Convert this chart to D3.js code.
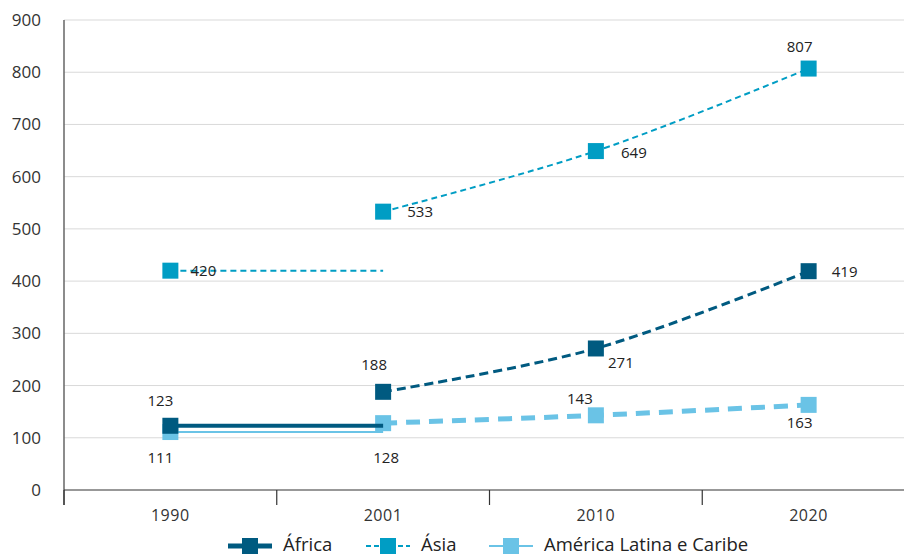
<!DOCTYPE html>
<html>
<head>
<meta charset="utf-8">
<script src="https://cdn.jsdelivr.net/npm/d3@7"></script>
<style>
  body { margin: 0; background: #fff; }
  svg { display: block; font-family: "Open Sans", "DejaVu Sans", sans-serif; }
</style>
</head>
<body>
<svg id="chart" width="904" height="557"></svg>
<script>
// Population by region (millions)
const years = ["1990", "2001", "2010", "2020"];
const africa = [123, 188, 271, 419];
const asia = [420, 533, 649, 807];
const latam = [111, 128, 143, 163];
const yTicks = [0, 100, 200, 300, 400, 500, 600, 700, 800, 900];
const seriesNames = ["África", "Ásia", "América Latina e Caribe"];

const svg = d3.select("#chart");
const x = d3.scaleBand().domain(years).range([64, 915]);
const y = d3.scaleLinear().domain([0, 900]).range([490, 20]);
const cx = d => x(d) + x.bandwidth() / 2;

// gridlines
svg.append("g").selectAll("line").data(yTicks.filter(t => t > 0)).join("line")
  .attr("x1", 64).attr("x2", 904)
  .attr("y1", d => y(d)).attr("y2", d => y(d))
  .attr("stroke", "#d9d9d9").attr("stroke-width", 1);

// y axis
const yAxis = svg.append("g").attr("transform", "translate(64,0)")
  .call(d3.axisLeft(y).tickValues(yTicks).tickSize(0).tickPadding(23));
yAxis.select(".domain").remove();
yAxis.selectAll("text").attr("font-size", 17).attr("fill", "#333")
  .attr("font-family", "'Open Sans', sans-serif");
svg.append("line").attr("x1", 64).attr("x2", 64).attr("y1", 20).attr("y2", 505)
  .attr("stroke", "#666").attr("stroke-width", 1.5);

// x axis
svg.append("line").attr("x1", 64).attr("x2", 904).attr("y1", 490).attr("y2", 490)
  .attr("stroke", "#333").attr("stroke-width", 1.2);
const xAxis = svg.append("g").attr("transform", "translate(0,490)")
  .call(d3.axisBottom(x).tickSize(0).tickPadding(20));
xAxis.select(".domain").remove();
xAxis.selectAll("text").attr("font-size", 16).attr("fill", "#333")
  .attr("letter-spacing", "0.6px")
  .attr("font-family", "'Open Sans', sans-serif");
svg.append("g").selectAll("line").data(years).join("line")
  .attr("x1", d => x(d)).attr("x2", d => x(d))
  .attr("y1", 490).attr("y2", 505)
  .attr("stroke", "#333").attr("stroke-width", 1.2);

const styles = [
  { color: "#005A80", base: { w: 4, dash: null }, trend: { w: 3, dash: "9,5" } },
  { color: "#009DC4", base: { w: 2, dash: "6,4" }, trend: { w: 2, dash: "6,4" } },
  { color: "#6AC3E6", base: { w: 2, dash: null }, trend: { w: 5, dash: "14,9" } }
];
const data = [africa, asia, latam];

const line = d3.line().x(d => cx(d.year)).y(d => y(d.v)).curve(d3.curveCatmullRom.alpha(0.5));
const flat = d3.line().x(d => cx(d.year)).y(d => y(d.v));

// draw order: Latin America, Asia, Africa (Africa on top)
[2, 1, 0].forEach(i => {
  const vals = data[i], st = styles[i];
  const g = svg.append("g");
  // 1990 value held until 2001
  g.append("path")
    .attr("d", flat([{ year: years[0], v: vals[0] }, { year: years[1], v: vals[0] }]))
    .attr("fill", "none").attr("stroke", st.color).attr("stroke-width", st.base.w)
    .attr("stroke-dasharray", st.base.dash);
  // 2001 onwards
  const pts = years.slice(1).map((yr, k) => ({ year: yr, v: vals[k + 1] }));
  g.append("path").attr("d", line(pts))
    .attr("fill", "none").attr("stroke", st.color).attr("stroke-width", st.trend.w)
    .attr("stroke-dasharray", st.trend.dash);
  const s = 16;
  g.selectAll("rect").data(years.map((yr, k) => ({ year: yr, v: vals[k] }))).join("rect")
    .attr("x", d => cx(d.year) - s / 2).attr("y", d => y(d.v) - s / 2)
    .attr("width", s).attr("height", s).attr("fill", st.color);
});

// value label offsets from each marker centre: [dx, baseline dy]
const labelOffsets = [
  [[-10, -20], [-9, -22], [25, 20], [36, 6]],
  [[33, 5], [37, 5], [38, 7], [-9, -17]],
  [[-10, 31], [3, 40], [-16, -11], [-9, 23]]
];
data.forEach((vals, i) => {
  svg.append("g").selectAll("text").data(vals).join("text")
    .attr("x", (d, k) => cx(years[k]) + labelOffsets[i][k][0])
    .attr("y", (d, k) => y(d) + labelOffsets[i][k][1])
    .attr("text-anchor", "middle").attr("font-size", 15).attr("fill", "#222")
    .text(d => d);
});

// legend
const legX = [228, 366, 489];
const lg = svg.append("g");
seriesNames.forEach((name, i) => {
  const st = styles[i];
  const ly = 546;
  lg.append("line").attr("x1", legX[i]).attr("x2", legX[i] + 44)
    .attr("y1", ly).attr("y2", ly)
    .attr("stroke", st.color).attr("stroke-width", i === 0 ? 5 : st.base.w)
    .attr("stroke-dasharray", st.base.dash ? "5,3" : null);
  lg.append("rect").attr("x", legX[i] + 14).attr("y", ly - 8).attr("width", 16).attr("height", 16)
    .attr("fill", st.color);
  lg.append("text").attr("x", legX[i] + 55).attr("y", 551)
    .attr("font-size", 18.5).attr("fill", "#222").text(name);
});
</script>
</body>
</html>
